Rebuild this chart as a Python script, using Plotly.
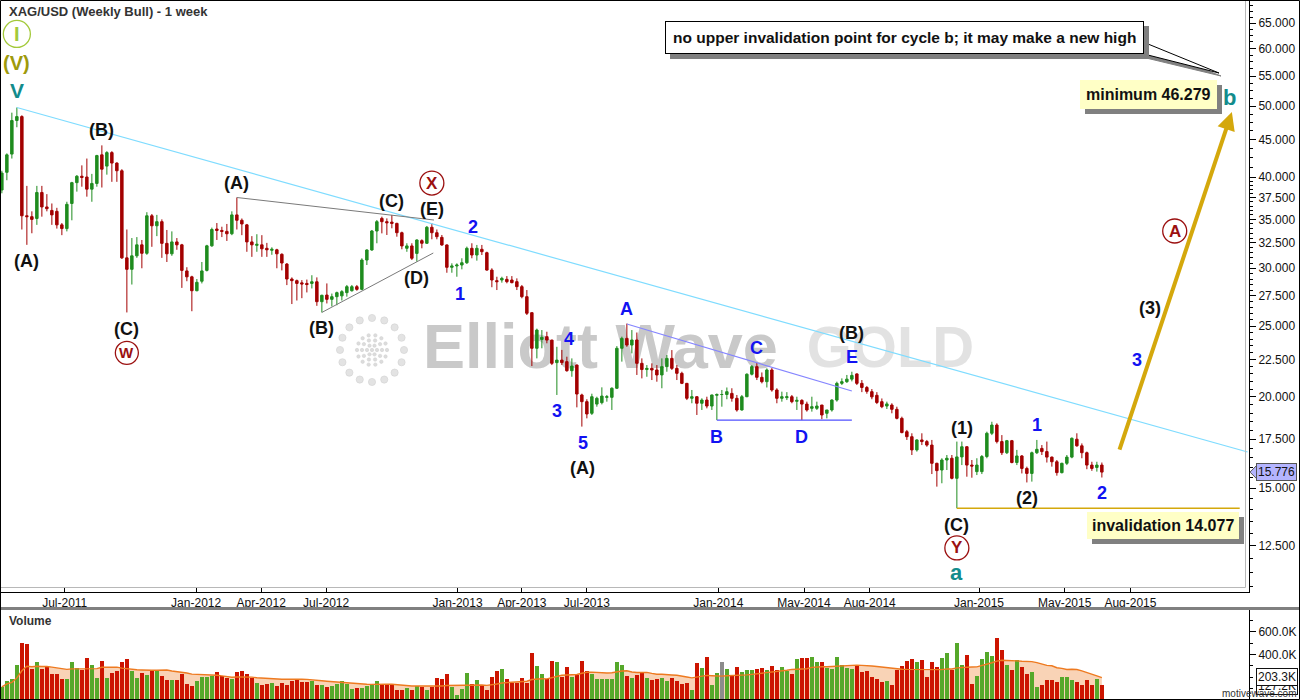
import numpy as np
import pandas as pd
import plotly.graph_objects as go

FIG_W, FIG_H = 1300, 700
FONT = "Liberation Sans, Arial, Helvetica, sans-serif"

# ------------------------------------------------------------------ data
first_week = "2011-04-04"

open_ = [38.4, 40.6, 43.0, 47.8, 48.4, 35.4, 35.3, 35.1, 38.1, 36.4,
         36.0, 35.9, 34.4, 34.0, 36.8, 39.3, 40.1, 40.0, 38.5, 39.2,
         42.9, 41.4, 43.2, 41.8, 40.8, 31.0, 29.9, 31.2, 32.3, 31.45,
         35.4, 34.3, 34.75, 32.45, 31.4, 32.6, 32.3, 29.75, 29.2, 27.95,
         28.8, 29.8, 32.2, 33.95, 33.8, 33.7, 33.45, 35.5, 34.9, 34.4,
         32.6, 32.25, 32.3, 31.95, 31.75, 31.8, 31.35, 30.4, 29.0, 28.85,
         28.65, 28.6, 28.6, 28.75, 27.0, 27.57, 27.2, 27.43, 27.5, 27.78,
         27.95, 28.31, 28.07, 30.79, 31.78, 33.74, 35.11, 34.75, 34.7, 34.56,
         33.56, 31.95, 32.19, 31.44, 32.73, 32.46, 34.14, 33.56, 33.07, 32.29,
         30.09, 30.22, 30.31, 30.53, 31.95, 31.28, 31.85, 31.51, 29.83, 28.85,
         28.91, 28.97, 28.91, 28.76, 28.31, 27.43, 26.08, 23.31, 23.97, 24.18,
         23.92, 22.28, 22.46, 22.35, 21.72, 22.11, 20.12, 19.70, 18.99, 19.55,
         19.64, 19.97, 19.97, 20.55, 23.31, 24.05, 23.55, 23.93, 22.23, 21.8,
         21.88, 21.77, 21.43, 22.0, 22.58, 21.88, 21.54, 20.87, 19.91, 20.01,
         19.6, 19.80, 19.43, 20.1, 20.15, 20.15, 20.22, 19.91, 19.19, 20.01,
         21.48, 22.0, 21.27, 20.98, 21.77, 20.44, 19.91, 19.95, 20.01, 19.72,
         19.78, 19.55, 19.29, 19.29, 19.49, 18.99, 19.19, 19.80, 20.87, 20.98,
         21.15, 21.5, 20.87, 20.6, 20.33, 20.1, 19.70, 19.43, 19.49, 19.23,
         18.69, 17.92, 17.64, 16.92, 17.46, 17.37, 17.18, 16.22, 15.88, 16.39,
         16.48, 15.47, 16.55, 17.09, 16.13, 15.80, 15.80, 16.57, 17.83, 18.30,
         17.37, 16.77, 17.42, 16.26, 16.60, 15.96, 15.71, 16.77, 17.0, 16.83,
         16.54, 16.30, 15.75, 16.22, 16.54, 17.50, 17.14, 16.77, 16.13, 16.01,
         16.13]
high = [40.8, 43.1, 49.0, 49.8, 48.6, 38.9, 35.9, 38.9, 38.9, 37.9,
        36.8, 36.3, 34.6, 37.0, 39.4, 40.25, 41.5, 42.4, 40.4, 42.9,
        44.2, 43.4, 43.4, 41.9, 41.0, 33.9, 33.0, 33.1, 32.8, 35.8,
        35.6, 35.5, 35.0, 33.85, 33.7, 33.0, 32.4, 30.1, 29.3, 29.0,
        30.6, 32.3, 34.1, 34.6, 34.2, 34.5, 35.9, 37.5, 35.1, 34.5,
        33.2, 33.4, 33.3, 32.5, 32.05, 31.9, 31.45, 30.5, 29.15, 28.95,
        28.9, 28.95, 29.35, 29.15, 27.6, 28.6, 27.7, 27.87, 28.0, 28.46,
        28.46, 28.46, 30.96, 31.85, 33.85, 34.93, 35.3, 35.11, 35.49, 34.63,
        33.67, 32.46, 32.46, 32.87, 32.87, 34.28, 34.6, 33.9, 33.32, 32.35,
        30.47, 30.47, 30.96, 32.12, 32.46, 32.29, 32.29, 31.61, 30.0, 29.21,
        29.21, 29.27, 29.27, 29.06, 28.46, 28.01, 26.1, 24.8, 24.69, 24.56,
        23.95, 23.42, 23.19, 22.70, 22.58, 22.15, 20.2, 19.85, 20.2, 20.01,
        20.61, 20.12, 20.61, 23.47, 24.18, 25.2, 24.69, 24.5, 22.58, 22.11,
        22.23, 22.11, 22.58, 22.82, 23.18, 22.11, 21.65, 20.9, 20.44, 20.05,
        19.91, 20.01, 20.14, 20.22, 20.44, 20.6, 20.55, 20.12, 20.12, 21.54,
        22.11, 22.27, 21.6, 21.88, 21.9, 20.55, 20.33, 20.3, 20.12, 20.01,
        19.85, 19.7, 20.01, 19.7, 19.5, 19.19, 19.85, 20.98, 21.2, 21.43,
        21.65, 21.54, 21.09, 20.7, 20.5, 20.3, 19.9, 19.7, 19.6, 19.39,
        18.79, 18.02, 17.83, 17.5, 17.83, 17.46, 17.46, 16.25, 16.48, 16.65,
        16.65, 17.37, 17.37, 17.12, 16.39, 16.48, 16.65, 17.92, 18.49, 18.40,
        17.73, 17.46, 17.46, 16.92, 16.65, 16.05, 16.83, 17.46, 17.18, 17.37,
        16.57, 16.39, 16.25, 16.65, 17.60, 17.83, 17.27, 16.83, 16.30, 16.30,
        16.26]
low = [38.0, 39.6, 42.4, 46.8, 33.9, 32.3, 33.5, 34.4, 35.3, 35.9,
       34.4, 34.0, 33.3, 33.7, 34.9, 38.2, 38.8, 37.6, 37.0, 38.8,
       38.7, 40.3, 39.4, 39.4, 30.9, 26.1, 28.5, 31.0, 30.0, 31.3,
       32.1, 33.2, 31.0, 30.6, 31.2, 31.8, 28.2, 28.8, 26.2, 27.9,
       28.6, 29.7, 32.1, 32.8, 33.1, 32.7, 33.3, 33.9, 33.3, 31.6,
       31.1, 31.6, 31.1, 31.1, 31.3, 30.0, 29.8, 28.45, 26.8, 27.1,
       27.3, 27.8, 28.15, 26.65, 26.1, 26.85, 26.6, 26.7, 27.1, 27.43,
       27.87, 27.95, 28.0, 30.31, 31.7, 32.46, 33.49, 33.32, 34.03, 33.14,
       31.85, 31.6, 30.79, 30.63, 31.95, 32.40, 32.87, 32.87, 32.2, 29.58,
       29.58, 29.21, 29.90, 30.41, 30.96, 30.73, 31.28, 29.77, 28.26, 28.01,
       28.67, 28.61, 28.61, 28.01, 27.29, 25.89, 22.04, 22.58, 23.31, 23.68,
       22.11, 20.12, 22.11, 21.65, 21.31, 19.35, 18.21, 18.69, 18.89, 19.39,
       19.53, 19.70, 19.19, 20.5, 22.35, 23.42, 22.94, 21.43, 21.2, 21.31,
       21.09, 20.98, 20.55, 21.65, 21.77, 21.09, 20.82, 19.80, 19.6, 18.89,
       19.19, 19.29, 19.19, 18.59, 19.39, 19.85, 19.70, 19.09, 19.15, 19.98,
       21.4, 21.09, 20.87, 20.6, 20.33, 19.6, 19.7, 19.8, 19.6, 19.19,
       18.59, 19.09, 19.09, 19.19, 18.64, 18.69, 19.09, 19.70, 20.76, 20.9,
       21.0, 20.76, 20.3, 20.2, 19.85, 19.55, 19.3, 19.25, 18.99, 18.63,
       17.83, 17.46, 16.65, 16.83, 17.18, 17.09, 15.68, 15.07, 15.23, 15.88,
       15.42, 14.077, 16.13, 15.55, 15.5, 15.63, 15.68, 16.48, 17.73, 17.27,
       16.65, 16.70, 16.22, 16.13, 15.71, 15.27, 15.31, 16.70, 16.65, 16.26,
       16.05, 15.60, 15.71, 16.13, 16.48, 17.09, 16.48, 15.92, 15.84, 15.80,
       15.51]
close = [40.5, 42.9, 47.8, 48.4, 35.4, 35.3, 35.0, 38.1, 36.4, 36.2,
         35.5, 34.4, 34.0, 36.7, 39.3, 40.1, 39.95, 38.5, 39.2, 42.8,
         41.0, 43.2, 41.8, 40.8, 31.0, 29.9, 31.2, 32.3, 31.45, 35.4,
         34.3, 34.75, 32.45, 31.4, 32.6, 32.3, 29.8, 29.2, 27.95, 28.7,
         29.75, 32.2, 33.9, 33.8, 33.7, 33.45, 35.5, 34.9, 34.5, 32.6,
         32.3, 32.35, 31.9, 31.8, 31.85, 31.4, 30.5, 29.0, 28.85, 28.6,
         28.55, 28.5, 28.75, 27.0, 27.55, 27.2, 27.43, 27.78, 27.87, 28.31,
         28.31, 28.07, 30.79, 31.78, 33.74, 34.75, 34.75, 34.63, 34.56, 33.56,
         32.19, 32.19, 30.96, 32.80, 32.46, 34.14, 33.56, 33.14, 32.29, 30.09,
         30.22, 30.31, 30.53, 31.95, 31.28, 31.95, 31.61, 29.83, 28.91, 28.76,
         29.06, 28.76, 28.67, 28.31, 27.43, 26.03, 23.31, 24.69, 24.13, 23.92,
         22.23, 22.46, 22.28, 21.72, 22.04, 20.18, 19.70, 18.95, 20.01, 19.91,
         20.05, 20.01, 20.55, 23.31, 24.05, 23.55, 23.93, 22.23, 21.8, 21.88,
         21.77, 21.43, 22.0, 22.58, 21.88, 21.54, 20.87, 19.91, 20.01, 19.60,
         19.80, 19.43, 20.12, 20.15, 20.15, 20.33, 19.91, 19.19, 20.01, 21.48,
         22.0, 21.27, 20.98, 21.77, 20.44, 19.91, 20.01, 20.01, 19.70, 19.78,
         19.55, 19.19, 19.39, 19.43, 18.89, 19.19, 19.80, 20.87, 20.98, 21.15,
         21.4, 20.87, 20.6, 20.35, 20.0, 19.65, 19.39, 19.56, 19.23, 18.69,
         17.87, 17.64, 16.92, 17.46, 17.37, 17.18, 16.22, 15.85, 16.39, 16.48,
         15.47, 16.55, 17.09, 16.13, 16.08, 16.13, 16.57, 17.83, 18.30, 17.37,
         16.77, 17.42, 16.26, 16.60, 15.96, 15.71, 16.77, 16.95, 16.83, 16.54,
         16.30, 15.75, 16.22, 16.54, 17.55, 17.14, 16.77, 16.13, 15.96, 16.13,
         15.776]
volume_k = [116, 168, 183, 313, 507, 496, 270, 331, 270, 304,
            232, 229, 183, 183, 331, 278, 261, 374, 310, 197,
            348, 194, 241, 252, 333, 365, 252, 197, 241, 217,
            252, 252, 212, 174, 174, 174, 232, 142, 122, 168,
            203, 203, 212, 244, 215, 197, 188, 244, 252, 226,
            197, 151, 136, 145, 151, 125, 151, 130, 168, 183,
            160, 160, 165, 136, 130, 116, 122, 145, 165, 139,
            96, 107, 107, 122, 136, 168, 136, 139, 136, 87,
            87, 107, 87, 125, 116, 87, 116, 194, 188, 226,
            116, 43, 96, 238, 145, 174, 130, 87, 203, 252,
            273, 183, 151, 151, 194, 151, 418, 296, 232, 188,
            348, 339, 203, 290, 203, 217, 348, 255, 232, 183,
            183, 183, 183, 339, 313, 212, 197, 217, 238, 194,
            174, 186, 194, 168, 197, 165, 139, 151, 87, 325,
            281, 383, 130, 238, 331, 276, 217, 287, 244, 261,
            267, 273, 278, 261, 304, 267, 287, 252, 232, 365,
            374, 368, 383, 331, 331, 278, 270, 383, 310, 284,
            276, 313, 246, 252, 203, 183, 162, 165, 130, 261,
            296, 342, 365, 331, 357, 203, 331, 287, 374, 418,
            264, 505, 310, 397, 139, 209, 365, 426, 392, 545,
            441, 313, 264, 357, 287, 232, 244, 116, 136, 174,
            180, 160, 206, 200, 180, 157, 128, 174, 128, 183,
            128]

n = len(close)
assert len(open_) == n and len(high) == n and len(low) == n and len(volume_k) == n
dates = pd.date_range(first_week, periods=n, freq="7D")

tick_dates = ["2011-07-01", "2012-01-01", "2012-04-01", "2012-07-01", "2013-01-01",
              "2013-04-01", "2013-07-01", "2014-01-01", "2014-05-01", "2014-08-01",
              "2015-01-01", "2015-05-01", "2015-08-01"]
tick_text = ["Jul-2011", "Jan-2012", "Apr-2012", "Jul-2012", "Jan-2013", "Apr-2013",
             "Jul-2013", "Jan-2014", "May-2014", "Aug-2014", "Jan-2015", "May-2015",
             "Aug-2015"]
price_ticks = [12.5, 15, 17.5, 20, 22.5, 25, 27.5, 30, 32.5, 35, 37.5, 40, 45, 50, 55, 60, 65]
vol_ticks_k = [400, 600]

last_price = 15.776
vol_ma_label_k = 203.3
vol_last_label_k = 127.2

# trend / channel lines : (dates, prices)
cyan_line = (["2011-04-25", "2016-01-12"], [49.8, 16.81])
gray_upper = (["2012-02-27", "2012-11-29"], [37.5, 34.93])
gray_lower = (["2012-06-25", "2012-11-28"], [26.1, 31.48])
blue_ace = (["2013-08-26", "2014-07-07"], [25.17, 20.37])
blue_bd = (["2013-12-30", "2014-07-07"], [18.59, 18.59])
gold_inval = (["2014-12-01", "2016-01-01"], [14.077, 14.077])
gold_arrow = (["2015-07-16", "2015-12-21"], [16.86, 49.1])

BLACK = "#111111"
BLUE = "#1212f2"
TEAL = "#138c8c"
OLIVE = "#9e9a0b"
DARKRED = "#9b1010"
LIME = "#a3c93a"

wave_labels = [
    ("(V)", "2011-04-25", 57.3, OLIVE, 20),
    ("V", "2011-04-25", 52.6, TEAL, 21),
    ("(B)", "2011-08-22", 46.4, BLACK, 18),
    ("(A)", "2011-05-09", 30.7, BLACK, 18),
    ("(C)", "2011-09-26", 24.8, BLACK, 18),
    ("(A)", "2012-02-27", 39.25, BLACK, 18),
    ("(B)", "2012-06-25", 24.86, BLACK, 18),
    ("(C)", "2012-10-01", 37.08, BLACK, 18),
    ("(E)", "2012-11-26", 36.16, BLACK, 18),
    ("(D)", "2012-11-05", 29.09, BLACK, 18),
    ("2", "2013-01-23", 34.16, BLUE, 18),
    ("1", "2013-01-05", 27.66, BLUE, 18),
    ("4", "2013-06-06", 24.0, BLUE, 18),
    ("3", "2013-05-20", 19.13, BLUE, 18),
    ("5", "2013-06-26", 17.29, BLUE, 18),
    ("(A)", "2013-06-25", 15.98, BLACK, 18),
    ("A", "2013-08-26", 26.38, BLUE, 18),
    ("C", "2014-02-24", 23.33, BLUE, 18),
    ("B", "2013-12-30", 17.62, BLUE, 18),
    ("D", "2014-04-28", 17.62, BLUE, 18),
    ("(B)", "2014-07-07", 24.46, BLACK, 18),
    ("E", "2014-07-07", 22.68, BLUE, 18),
    ("(1)", "2014-12-08", 18.13, BLACK, 18),
    ("1", "2015-03-23", 18.30, BLUE, 18),
    ("(2)", "2015-03-09", 14.54, BLACK, 18),
    ("2", "2015-06-22", 14.77, BLUE, 18),
    ("(C)", "2014-12-01", 13.35, BLACK, 18),
    ("a", "2014-12-01", 11.48, TEAL, 22),
    ("(3)", "2015-08-28", 26.47, BLACK, 18),
    ("3", "2015-08-10", 22.46, BLUE, 18),
    ("b", "2015-12-18", 51.46, TEAL, 22),
]
# circled labels: text, date, price, colour, radius(px), font size
circled_labels = [
    ("I", "2011-04-25", 62.8, LIME, 13.5, 20),
    ("W", "2011-09-26", 22.98, DARKRED, 11.5, 15),
    ("X", "2012-11-26", 39.25, DARKRED, 12, 17),
    ("Y", "2014-12-01", 12.42, DARKRED, 12, 17),
    ("A", "2015-10-02", 33.74, DARKRED, 12, 17),
]
# boxes: text, date, price
box_minimum = ("minimum 46.279", "2015-08-26", 51.9)
box_invalid = ("invalidation 14.077", "2015-09-15", 13.35)
callout = ("no upper invalidation point for cycle b; it may make a new high", "2014-09-19", 62.1)

# ------------------------------------------------------------------ geometry
AXIS_X_PX = 1249
MAIN_BOTTOM_PX = 592
VOL_TOP_PX = 610
x_range = ["2011-04-01 09:36", "2016-01-14 00:00"]
price_range = [10.81, 69.9]
vol_range_k = [0, 794]
x_dom = [0, AXIS_X_PX / FIG_W]
y_dom = [1 - MAIN_BOTTOM_PX / FIG_H, 1]
v_dom = [0, 1 - VOL_TOP_PX / FIG_H]
log_range = [np.log10(price_range[0]), np.log10(price_range[1])]
x0_ts, x1_ts = pd.Timestamp(x_range[0]), pd.Timestamp(x_range[1])


def px(xp):
    return xp / FIG_W


def py(yp):
    return 1 - yp / FIG_H


def price_to_ypx(p):
    lo, hi = log_range
    return (hi - np.log10(p)) / (hi - lo) * MAIN_BOTTOM_PX


def date_to_xpx(d):
    return (pd.Timestamp(d) - x0_ts) / (x1_ts - x0_ts) * AXIS_X_PX


UP = "#1f8c1f"
DN = "#a30000"
VUP = "#55a82a"
VDN = "#cc1400"
WM_FONT = "Liberation Sans Narrow, Arial Narrow, Liberation Sans, Arial"

fig = go.Figure()

# watermark (base axis, under candles)
fig.add_trace(go.Scatter(
    x=["2013-07-20"], y=[23.0], text=["<b>Elliott Wave</b>"], mode="text",
    textfont=dict(family=WM_FONT, size=63, color="#c9c9c9"),
    xaxis="x", yaxis="y", hoverinfo="skip", showlegend=False))
fig.add_trace(go.Scatter(
    x=["2014-08-30"], y=[23.0], text=["<b>GOLD</b>"], mode="text",
    textfont=dict(family=WM_FONT, size=58, color="#e2e2e2"),
    xaxis="x", yaxis="y", hoverinfo="skip", showlegend=False))

# candles (overlay axis, above the watermark)
fig.add_trace(go.Candlestick(
    x=dates, open=open_, high=high, low=low, close=close,
    xaxis="x", yaxis="y5",
    increasing=dict(line=dict(color=UP, width=1), fillcolor=UP),
    decreasing=dict(line=dict(color=DN, width=1), fillcolor=DN),
    whiskerwidth=0, hoverinfo="skip", showlegend=False))

for (xs, ys), col, w in [(cyan_line, "#7fdcff", 1.2), (gray_upper, "#7a7a7a", 1),
                         (gray_lower, "#7a7a7a", 1), (blue_ace, "#8585ff", 1.2),
                         (blue_bd, "#5050ff", 1.2), (gold_inval, "#d4a80c", 1.5)]:
    fig.add_trace(go.Scatter(x=xs, y=ys, mode="lines", line=dict(color=col, width=w),
                             xaxis="x", yaxis="y5", hoverinfo="skip", showlegend=False))

# volume
vol = pd.Series(volume_k, dtype=float)
vol_ma = vol.rolling(20, min_periods=1).mean()
vcol = [VUP if c > o else (VDN if c < o else "#8c8c8c") for o, c in zip(open_, close)]
fig.add_trace(go.Scatter(x=dates, y=vol_ma, mode="lines", fill="tozeroy",
                         fillcolor="#f9d3b6", line=dict(width=0, color="#f9d3b6"),
                         xaxis="x2", yaxis="y2", hoverinfo="skip", showlegend=False))
fig.add_trace(go.Bar(x=dates, y=vol, marker=dict(color=vcol, line=dict(width=0)),
                     width=5.3 * 86400000, xaxis="x2", yaxis="y3", hoverinfo="skip", showlegend=False))
fig.add_trace(go.Scatter(x=dates, y=vol_ma, mode="lines", line=dict(color="#ee7a20", width=1.4),
                         xaxis="x2", yaxis="y3", hoverinfo="skip", showlegend=False))

tickfont = dict(family=FONT, size=12, color="#111111")
minor_vals = [v for v in list(np.arange(11.0, 40.0, 0.5)) + list(np.arange(40.0, 70.0, 1.25))
              if all(abs(v - t) > 1e-6 for t in price_ticks)]

fig.update_layout(
    width=FIG_W, height=FIG_H, margin=dict(l=0, r=0, t=0, b=0),
    paper_bgcolor="white", plot_bgcolor="white", showlegend=False,
    xaxis=dict(domain=x_dom, type="date", range=x_range, anchor="y",
               tickmode="array", tickvals=tick_dates, ticktext=tick_text,
               ticks="inside", ticklen=5, tickcolor="black",
               showline=True, linecolor="black", linewidth=1,
               showgrid=False, zeroline=False, tickfont=tickfont,
               rangeslider=dict(visible=False), fixedrange=True),
    yaxis=dict(domain=y_dom, type="log", range=log_range, anchor="x", side="right",
               tickmode="array", tickvals=price_ticks,
               ticktext=[f"{v:.3f}" for v in price_ticks],
               ticks="outside", ticklen=6, tickcolor="black",
               showline=True, linecolor="black", linewidth=1,
               showgrid=False, zeroline=False, tickfont=tickfont,
               minor=dict(tickmode="array", tickvals=minor_vals, ticks="outside",
                          ticklen=3, tickcolor="black"),
               fixedrange=True),
    yaxis5=dict(overlaying="y", type="log", range=log_range, anchor="x", visible=False,
                fixedrange=True),
    xaxis2=dict(domain=x_dom, type="date", range=x_range, anchor="y2", matches="x",
                showticklabels=False, ticks="", showline=False, showgrid=False,
                zeroline=False),
    yaxis2=dict(domain=v_dom, range=vol_range_k, anchor="x2", side="right",
                tickmode="array", tickvals=vol_ticks_k,
                ticktext=[f"{v:.1f}K" for v in vol_ticks_k],
                ticks="outside", ticklen=6, tickcolor="black",
                showline=True, linecolor="black", linewidth=1,
                showgrid=False, zeroline=False, tickfont=tickfont,
                minor=dict(dtick=100, ticks="outside", ticklen=3, tickcolor="black"),
                fixedrange=True),
    yaxis3=dict(overlaying="y2", range=vol_range_k, anchor="x2", visible=False,
                fixedrange=True),
    bargap=0,
)

shapes = []
# logo of the watermark (dotted rings)
cx, cy = 372, 350
for R, k, r, col in [(32, 16, 3.6, "#e3e3e3"), (15, 14, 1.7, "#dcdcdc"),
                     (10, 10, 1.7, "#dcdcdc"), (5, 6, 1.7, "#dcdcdc"), (0, 1, 1.7, "#dcdcdc")]:
    for a in np.linspace(0, 2 * np.pi, k, endpoint=False):
        xc, yc = cx + R * np.cos(a), cy + R * np.sin(a)
        shapes.append(dict(type="circle", xref="paper", yref="paper", layer="below",
                           x0=px(xc - r), x1=px(xc + r), y0=py(yc + r), y1=py(yc - r),
                           fillcolor=col, line=dict(color="#d2d2d2", width=0.6)))

# inner grey frame, separator, outer border
shapes += [
    dict(type="line", xref="paper", yref="paper", x0=px(1245.5), x1=px(1245.5), y0=py(0), y1=py(587.5),
         line=dict(color="#b8b8b8", width=1)),
    dict(type="line", xref="paper", yref="paper", x0=0, x1=px(1245.5), y0=py(587.5), y1=py(587.5),
         line=dict(color="#b8b8b8", width=1)),
    dict(type="line", xref="paper", yref="paper", x0=0, x1=1, y0=py(608.5), y1=py(608.5),
         line=dict(color="#808080", width=3)),
    dict(type="rect", xref="paper", yref="paper", x0=px(0.5), x1=px(1299.5), y0=py(699.5), y1=py(0.5),
         line=dict(color="black", width=1)),
]

# circled labels (circle drawn in page pixels so it stays round)
for txt, d, p, col, r, fs in circled_labels:
    xc, yc = date_to_xpx(d), price_to_ypx(p)
    shapes.append(dict(type="circle", xref="paper", yref="paper",
                       x0=px(xc - r), x1=px(xc + r), y0=py(yc + r), y1=py(yc - r),
                       line=dict(color=col, width=1.3), fillcolor="rgba(0,0,0,0)"))

# callout tail (shadow + white)
tip = (1219, 73)
shapes.append(dict(type="path", xref="paper", yref="paper",
                   path=f"M {px(1142)},{py(57)} L {px(tip[0]+2)},{py(tip[1]+3)} L {px(1153)},{py(49)} Z",
                   fillcolor="#808080", line=dict(color="#808080", width=1)))
shapes.append(dict(type="path", xref="paper", yref="paper",
                   path=f"M {px(1136)},{py(52)} L {px(tip[0])},{py(tip[1])} L {px(1148)},{py(44)} Z",
                   fillcolor="white", line=dict(color="black", width=1)))

# price tag pointer
yp = price_to_ypx(last_price)
shapes.append(dict(type="path", xref="paper", yref="paper",
                   path=f"M {px(1250)},{py(yp)} L {px(1257)},{py(yp-7)} L {px(1257)},{py(yp+7)} Z",
                   fillcolor="#b4b4ff", line=dict(color="#555555", width=1)))

ann = []
for txt, d, p, col, fs in wave_labels:
    ann.append(dict(x=d, y=np.log10(p), xref="x", yref="y", text=f"<b>{txt}</b>", showarrow=False,
                    font=dict(family=FONT, size=fs, color=col), xanchor="center", yanchor="middle"))
for txt, d, p, col, r, fs in circled_labels:
    ann.append(dict(x=d, y=np.log10(p), xref="x", yref="y", text=f"<b>{txt}</b>", showarrow=False,
                    font=dict(family=FONT, size=fs, color=col), xanchor="center", yanchor="middle"))


def boxed(txt, d, p, fs, pad, bg, border=None):
    out = [dict(x=d, y=np.log10(p), xref="x", yref="y", text=f"<b>{txt}</b>", showarrow=False,
                font=dict(family=FONT, size=fs, color="#808080"), bgcolor="#808080",
                borderpad=pad, borderwidth=1, bordercolor="#808080", xshift=5, yshift=-5)]
    out.append(dict(x=d, y=np.log10(p), xref="x", yref="y", text=f"<b>{txt}</b>", showarrow=False,
                    font=dict(family=FONT, size=fs, color="#111111"), bgcolor=bg,
                    borderpad=pad, borderwidth=1, bordercolor=border or bg))
    return out


ann += boxed(callout[0], callout[1], callout[2], 15.5, 7, "white", "black")
ann += boxed(box_minimum[0], box_minimum[1], box_minimum[2], 16, 5, "#ffffc6")
ann += boxed(box_invalid[0], box_invalid[1], box_invalid[2], 16, 4, "#ffffc6")

# gold arrow
ann.append(dict(x=gold_arrow[0][1], y=np.log10(gold_arrow[1][1]), xref="x", yref="y",
                ax=gold_arrow[0][0], ay=np.log10(gold_arrow[1][0]), axref="x", ayref="y",
                text="", showarrow=True, arrowhead=2, arrowsize=0.9, arrowwidth=4,
                arrowcolor="#d4a80c", standoff=0))

# titles & axis tags
ann.append(dict(x=px(7), y=py(12), xref="paper", yref="paper", text="<b>XAG/USD (Weekly Bull) - 1 week</b>",
                showarrow=False, xanchor="left", yanchor="middle",
                font=dict(family=FONT, size=13, color="#333333")))
ann.append(dict(x=px(7), y=py(621), xref="paper", yref="paper", text="<b>Volume</b>",
                showarrow=False, xanchor="left", yanchor="middle",
                font=dict(family=FONT, size=12, color="#333333")))
ann.append(dict(x=px(1256), y=np.log10(last_price), xref="paper", yref="y", text=f"{last_price:.3f}",
                showarrow=False, xanchor="left", yanchor="middle", bgcolor="#b4b4ff",
                bordercolor="#555555", borderwidth=1, borderpad=1,
                font=dict(family=FONT, size=12, color="#111111")))
for v in (vol_last_label_k, vol_ma_label_k):
    ann.append(dict(x=px(1256), y=v, xref="paper", yref="y2", text=f"{v:.1f}K",
                    showarrow=False, xanchor="left", yanchor="middle", bgcolor="white",
                    bordercolor="#111111", borderwidth=1, borderpad=1,
                    font=dict(family=FONT, size=12, color="#111111")))
ann.append(dict(x=px(1298), y=py(693), xref="paper", yref="paper", text="motivewave.com",
                showarrow=False, xanchor="right", yanchor="middle",
                font=dict(family=FONT, size=10, color="#333333")))

fig.update_layout(shapes=shapes, annotations=ann)

fig.write_html("out.html", config={"displayModeBar": False},
               post_script="document.body.style.margin='0px';")
